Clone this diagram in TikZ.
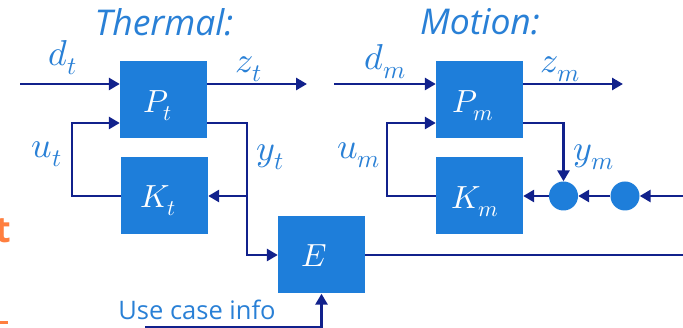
\documentclass[tikz,border=0pt]{standalone}
\usepackage{fontspec}
\usepackage{unicode-math}
\setmainfont{Open Sans}
\setmathfont{Latin Modern Math}
\usetikzlibrary{arrows.meta}
\definecolor{boxblue}{RGB}{30,126,218}
\definecolor{navy}{RGB}{17,33,140}
\definecolor{lblblue}{RGB}{41,128,214}
\definecolor{orng}{RGB}{255,127,63}
\begin{document}
\begin{tikzpicture}[x=1pt,y=-1pt,
  blk/.style={fill=boxblue,minimum width=87pt,minimum height=77pt,inner sep=0pt},
  inlbl/.style={text=white,font=\fontsize{32}{35}\selectfont,inner sep=0pt},
  dot/.style={circle,fill=boxblue,minimum size=29pt,inner sep=0pt},
  wire/.style={draw=navy,line width=2.7pt},
  arr/.style={wire,-{Triangle[length=11pt,width=12pt]}},
  lbl/.style={text=lblblue,font=\fontsize{36}{40}\selectfont,inner sep=0pt},
  title/.style={text=lblblue,font=\fontsize{35.5}{40}\selectfont\itshape,inner sep=0pt}]
\useasboundingbox[fill=white] (0,0) rectangle (683,328);
% titles
\node[title] (tth) at (164,22) {Thermal:};
\node[title] (tmo) at (480,22) {Motion:};
% orange fragments
\node[text=orng,font=\fontsize{36}{40}\selectfont\bfseries,anchor=base east,inner sep=0pt] (ofr) at (11.5,243) {t};
\fill[orng] (0,321.5) rectangle (8,324.5);
% blocks
\node[blk,label={[inlbl,xshift=-5.5pt,yshift=-6.5pt]center:$P_t$}] (Pt) at (163.5,99.5) {};
\node[blk,label={[inlbl,xshift=-6.5pt,yshift=-5pt]center:$K_t$}] (Kt) at (164.5,196) {};
\node[blk,label={[inlbl,xshift=-7pt,yshift=-1pt]center:$E$}] (E) at (321.5,255) {};
\node[blk,label={[inlbl,xshift=-6.5pt,yshift=-6.5pt]center:$P_m$}] (Pm) at (479.5,99.5) {};
\node[blk,label={[inlbl,xshift=-4.5pt,yshift=-6pt]center:$K_m$}] (Km) at (479.5,196) {};
\node[dot] (c1) at (563.5,196) {};
\node[dot] (c2) at (625,196) {};
% coordinates
\coordinate (dtin) at (20,84);
\coordinate (ztout) at (307,84);
\coordinate (ut1) at (72,123);
\coordinate (yt1) at (247,123);
\coordinate (Eout) at (683,255);
\coordinate (uc) at (145,327);
\coordinate (dmin) at (334,84);
\coordinate (zmout) at (623,84);
\coordinate (um1) at (387,123);
\coordinate (ym1) at (563.5,123);
\coordinate (rin) at (683,196);
% thermal loop
\draw[arr] (dtin) -- (Pt.west |- dtin);
\draw[arr] (Pt.east |- ztout) -- (ztout);
\draw[arr] (Kt.west) -| (ut1) -- (Pt.west |- ut1);
\draw[arr] (Pt.east |- yt1) -- (yt1) |- (E.west);
\draw[arr] (yt1 |- Kt.east) -- (Kt.east);
\draw[wire] (E.east) -- (Eout);
\draw[arr] (uc) -| (E.south);
% motion loop
\draw[arr] (dmin) -- (Pm.west |- dmin);
\draw[arr] (Pm.east |- zmout) -- (zmout);
\draw[arr] (Km.west) -| (um1) -- (Pm.west |- um1);
\draw[arr] (Pm.east |- ym1) -- (ym1) -- (c1.north);
\draw[arr] (c1.west) -- (Km.east);
\draw[arr] (c2.west) -- (c1.east);
\draw[arr] (rin) -- (c2.east);
% labels
\node[lbl] (ldt) at (62.5,58) {$d_t$};
\node[lbl] (lzt) at (249,69) {$z_t$};
\node[lbl] (lut) at (47,154) {$u_t$};
\node[lbl] (lyt) at (270,157) {$y_t$};
\node[lbl] (ldm) at (385,62) {$d_m$};
\node[lbl] (lzm) at (560,69) {$z_m$};
\node[lbl] (lum) at (359,155) {$u_m$};
\node[lbl] (lym) at (594,157) {$y_m$};
\node[text=lblblue,font=\fontsize{25.5}{28}\selectfont,inner sep=0pt] (luc) at (197,310) {Use case info};
\end{tikzpicture}
\end{document}
